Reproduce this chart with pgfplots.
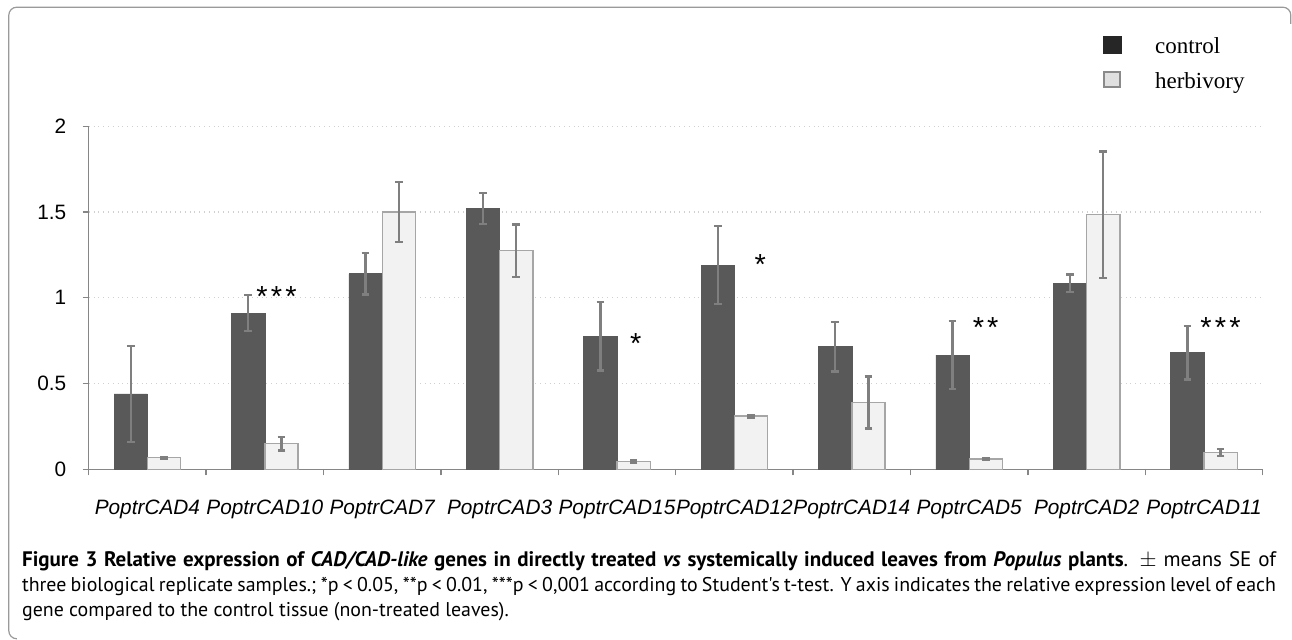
\documentclass[border=0pt]{standalone}
\usepackage{fontspec}
\setmainfont{Liberation Sans}
\newfontfamily\legfont{Liberation Serif}
\newfontfamily\capfont{PT Sans}
\usepackage{pgfplots}
\pgfplotsset{compat=1.18}
\usepackage{pgfplotstable}

\definecolor{ctrl}{HTML}{595959}
\definecolor{herb}{HTML}{F2F2F2}
\definecolor{herbedge}{HTML}{A6A6A6}
\definecolor{errc}{HTML}{7F7F7F}
\definecolor{axc}{HTML}{868686}
\definecolor{gridc}{HTML}{D0D0D0}
\definecolor{framec}{HTML}{9A9A9A}
\definecolor{legdark}{HTML}{262626}
\definecolor{leglight}{HTML}{E0E0E0}
\definecolor{legedge}{HTML}{8A8A8A}

\pgfplotstableread{
x y e
0 0.44 0.28
1 0.91 0.105
2 1.14 0.12
3 1.52 0.09
4 0.775 0.20
5 1.19 0.227
6 0.715 0.145
7 0.665 0.198
8 1.085 0.05
9 0.68 0.157
}\ctrltab

\pgfplotstableread{
x y e
0 0.068 0.004
1 0.15 0.04
2 1.50 0.175
3 1.275 0.153
4 0.045 0.006
5 0.31 0.008
6 0.39 0.152
7 0.06 0.005
8 1.485 0.368
9 0.097 0.02
}\herbtab

\begin{document}
\begin{tikzpicture}
\useasboundingbox (0,0) rectangle (646pt,320pt);
\draw[framec, line width=0.6pt, rounded corners=4pt]
  (8pt,0.6pt) -- (4.4pt,0.6pt) -- (4.4pt,316.4pt) -- (645.4pt,316.4pt) -- (645.4pt,308pt);
\begin{axis}[
  at={(44.35pt,85.35pt)}, anchor=south west,
  scale only axis, width=587pt, height=171.5pt,
  xmin=-0.5, xmax=9.5, ymin=0, ymax=2,
  axis x line*=bottom, axis y line*=left,
  axis line style={axc, line width=0.7pt},
  tick align=outside, major tick length=3pt,
  tick style={axc, line width=0.7pt},
  xtick={-0.5,0.5,1.5,2.5,3.5,4.5,5.5,6.5,7.5,8.5,9.5},
  x tick label as interval,
  xticklabels={PoptrCAD4,PoptrCAD10,PoptrCAD7,PoptrCAD3,PoptrCAD15,PoptrCAD12,PoptrCAD14,PoptrCAD5,PoptrCAD2,PoptrCAD11},
  xticklabel style={font=\fontsize{10.4}{12}\selectfont\itshape, inner sep=0pt, yshift=-12pt},
  ytick={0,0.5,1,1.5,2},
  yticklabel style={font=\fontsize{10.4}{12}\selectfont, inner sep=0pt, xshift=-8pt},
  /pgf/number format/assume math mode=true,
  ymajorgrids, grid style={gridc, dotted, line width=0.6pt},
  legend style={draw=none, fill=none, at={(0.8637,1.263)}, anchor=north west,
    inner sep=0pt, outer sep=0pt, row sep=7.35pt, column sep=0pt,
    nodes={inner sep=0pt, font=\legfont\fontsize{11.5}{13}\selectfont, anchor=base west}},
  legend cell align=left,
]
\addlegendimage{legend image code/.code={\fill[legdark] (0pt,0pt) rectangle (9pt,8.5pt); \path[draw=none, fill=none] (0pt,0pt) rectangle (26pt,0.1pt);}}
\addlegendentry{control}
\addlegendimage{legend image code/.code={\draw[fill=leglight, draw=legedge, line width=0.9pt] (0.45pt,0.45pt) rectangle (8.55pt,8.05pt); \path[draw=none, fill=none] (0pt,0pt) rectangle (26pt,0.1pt);}}
\addlegendentry{herbivory}

\addplot[forget plot, ybar, bar width=16.67pt, bar shift=0pt, fill=ctrl, draw=ctrl, line width=0.3pt,
  error bars/.cd, y dir=both, y explicit,
  error bar style={errc, line width=1.2pt},
  error mark options={rotate=90, errc, line width=1.2pt, mark size=1.9pt}]
  table[x expr=\thisrow{x}-0.142, y=y, y error=e]{\ctrltab};
\addplot[forget plot, ybar, bar width=16.67pt, bar shift=0pt, fill=herb, draw=herbedge, line width=0.7pt,
  error bars/.cd, y dir=both, y explicit,
  error bar style={errc, line width=1.2pt},
  error mark options={rotate=90, errc, line width=1.2pt, mark size=1.9pt}]
  table[x expr=\thisrow{x}+0.142, y=y, y error=e]{\herbtab};

\begin{scope}[every node/.style={font=\fontsize{14.5}{16}\selectfont, inner sep=0pt, anchor=base}]
\node at (axis cs:1.10,0.951) {*\kern1.6pt*\kern1.6pt*};
\node at (axis cs:4.16,0.677) {*};
\node at (axis cs:5.22,1.134) {*};
\node at (axis cs:7.14,0.770) {*\kern1.6pt*};
\node at (axis cs:9.14,0.770) {*\kern1.6pt*\kern1.6pt*};
\end{scope}
\end{axis}

\begin{scope}[every node/.style={anchor=base west, inner sep=0pt, font=\capfont\fontsize{9.95}{12}\selectfont}]
\node at (10.85pt,36.6pt) {\fontsize{10.5}{12}\selectfont\hbox to 627pt{\textbf{Figure 3 Relative expression of \textit{CAD/CAD-like} genes in directly treated \textit{vs} systemically induced leaves from \textit{Populus} plants}. $\pm$ means SE of}};
\node at (10.85pt,24.1pt) {\hbox to 627pt{three biological replicate samples.; *p < 0.05, **p < 0.01, ***p < 0,001 according to Student's t-test. Y axis indicates the relative expression level of each}};
\node at (10.85pt,11.6pt) {gene compared to the control tissue (non-treated leaves).};
\end{scope}
\end{tikzpicture}
\end{document}
